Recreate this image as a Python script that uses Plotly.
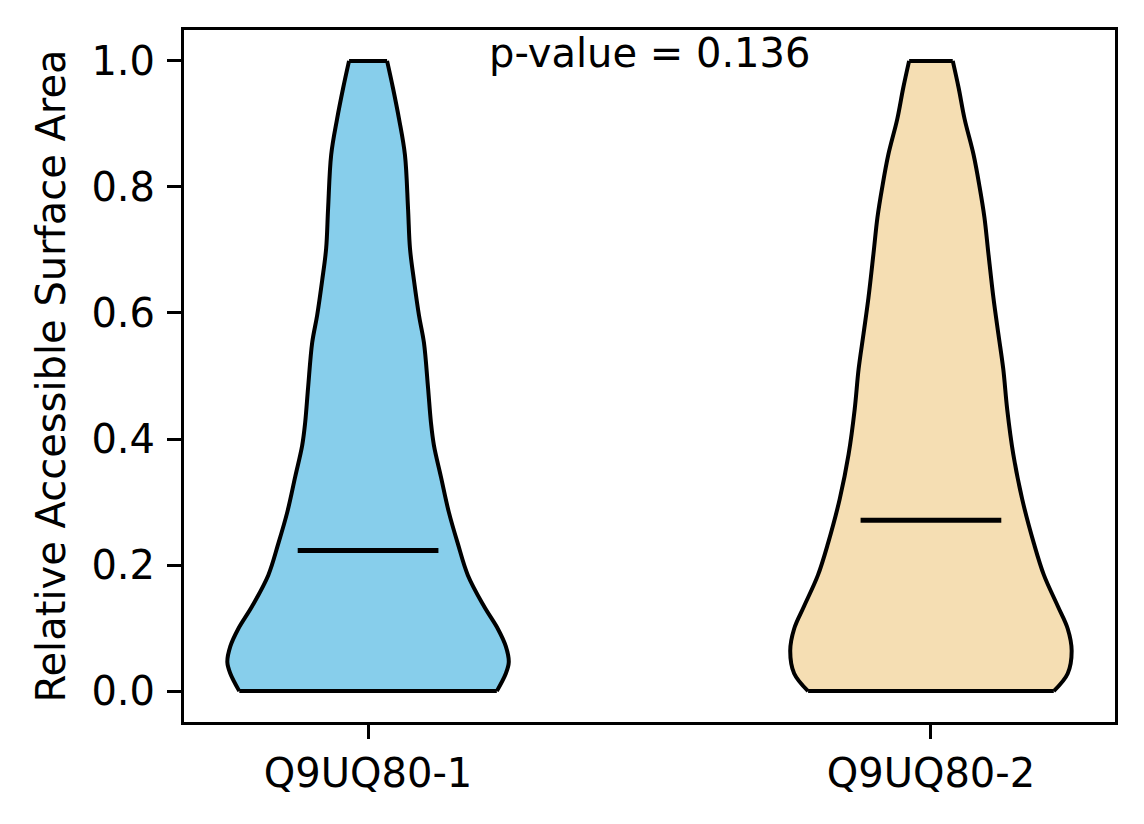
import numpy as np
import plotly.graph_objects as go

# two isoforms, positions 1 and 2 on the x axis
categories = ["Q9UQ80-1", "Q9UQ80-2"]
fill_colors = ["#87CEEB", "#F5DEB3"]
means = [0.223, 0.271]
p_value = 0.136

# kernel density outline (y = RSA, density scaled so max = 1)
rsa_grid_1 = [0.0, 0.028, 0.046, 0.071, 0.099, 0.135, 0.184, 0.234, 0.284, 0.34, 0.39,
              0.426, 0.482, 0.553, 0.596, 0.652, 0.702, 0.766, 0.851, 0.908, 0.957, 1.0]
density_1 = [0.915, 0.979, 1.0, 0.979, 0.922, 0.823, 0.709, 0.638, 0.574, 0.518, 0.468,
             0.447, 0.426, 0.397, 0.362, 0.326, 0.298, 0.284, 0.262, 0.22, 0.177, 0.135]

rsa_grid_2 = [0.0, 0.028, 0.064, 0.099, 0.135, 0.184, 0.234, 0.305, 0.376, 0.447, 0.511,
              0.567, 0.624, 0.695, 0.752, 0.801, 0.851, 0.908, 0.957, 1.0]
density_2 = [0.873, 0.972, 1.0, 0.972, 0.901, 0.803, 0.732, 0.648, 0.585, 0.542, 0.514,
             0.479, 0.444, 0.408, 0.38, 0.345, 0.303, 0.239, 0.197, 0.155]

grids = [rsa_grid_1, rsa_grid_2]
densities = [density_1, density_2]

half_width = 0.25  # matplotlib default widths=0.5
font = dict(family="DejaVu Sans", size=40, color="black")

fig = go.Figure()

for i, (grid, dens) in enumerate(zip(grids, densities)):
    pos = i + 1
    y = np.array(grid)
    hw = half_width * np.array(dens)
    left = pos - hw
    right = pos + hw

    # body fill
    fig.add_trace(go.Scatter(
        x=np.concatenate([left, right[::-1]]), y=np.concatenate([y, y[::-1]]),
        mode="lines", fill="toself", fillcolor=fill_colors[i],
        line=dict(width=0), hoverinfo="skip", showlegend=False))
    # smooth edges
    for side in (left, right):
        fig.add_trace(go.Scatter(x=side, y=y, mode="lines",
                                 line=dict(color="black", width=4, shape="spline"),
                                 hoverinfo="skip", showlegend=False))
    # flat top and bottom
    for j in (0, -1):
        fig.add_trace(go.Scatter(x=[left[j], right[j]], y=[y[j], y[j]], mode="lines",
                                 line=dict(color="black", width=4),
                                 hoverinfo="skip", showlegend=False))
    # mean line
    fig.add_trace(go.Scatter(x=[pos - half_width / 2, pos + half_width / 2], y=[means[i], means[i]],
                             mode="lines", line=dict(color="black", width=5),
                             showlegend=False))

fig.add_annotation(x=1.5, y=1.013, xref="x", yref="y", text=f"p-value = {p_value}",
                   showarrow=False, xanchor="center", yanchor="middle", font=font)

# page body adds an 8px margin, so the figure is drawn 8px smaller and shifted
fig.update_layout(
    width=1136, height=816,
    margin=dict(l=176, r=29, t=22, b=102),
    plot_bgcolor="white", paper_bgcolor="white",
    font=font,
)
fig.update_xaxes(range=[0.673, 2.327], tickvals=[1, 2], ticktext=categories,
                 showline=True, mirror=True, linecolor="black", linewidth=3,
                 ticks="outside", ticklen=14, tickwidth=3, tickcolor="black",
                 showgrid=False, zeroline=False, automargin=False, ticklabelstandoff=0)
fig.update_yaxes(range=[-0.049, 1.049], tickvals=[0, 0.2, 0.4, 0.6, 0.8, 1.0], tickformat=".1f",
                 showline=True, mirror=True, linecolor="black", linewidth=3,
                 ticks="outside", ticklen=14, tickwidth=3, tickcolor="black",
                 showgrid=False, zeroline=False, automargin=False, ticklabelstandoff=4,
                 title=dict(text="Relative Accessible Surface Area", font=font, standoff=14))

fig.write_html("out.html")
